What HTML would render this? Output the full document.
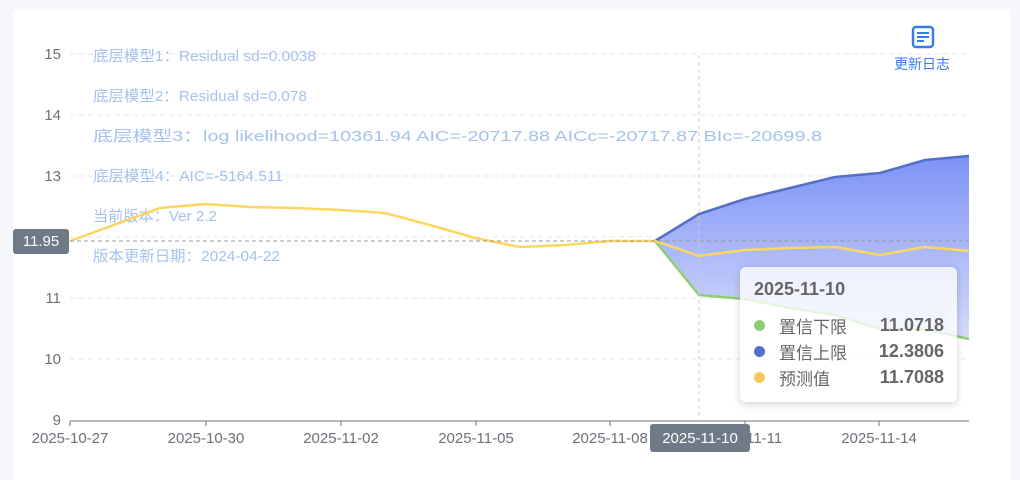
<!DOCTYPE html>
<html><head><meta charset="utf-8"><style>
body{margin:0;width:1020px;height:475px;background:#f5f7fb;font-family:"Liberation Sans","Noto Sans CJK SC",sans-serif;overflow:hidden;position:relative}
.panel{position:absolute;left:13px;top:10px;width:997px;height:470px;background:#fff}
.tt{position:absolute;left:740px;top:267px;width:217px;height:135px;background:rgba(255,255,255,0.78);border-radius:6px;box-shadow:0 2px 8px rgba(0,0,0,0.18);color:#666}
.row{position:absolute;left:14px;font-size:17px;height:26px;width:190px;display:flex;align-items:center}
.dot{display:inline-block;width:11px;height:11px;border-radius:50%;margin-right:14px}
.v{margin-left:auto;font-weight:bold;color:#666;font-size:18px}
</style></head><body>
<div class="panel"></div>
<svg width="1020" height="475" style="position:absolute;left:0;top:0" font-family="Liberation Sans, Noto Sans CJK SC, sans-serif">
<defs><linearGradient id="g" gradientUnits="userSpaceOnUse" x1="0" y1="150" x2="0" y2="400"><stop offset="0" stop-color="#7a90f5"/><stop offset="1" stop-color="#f2f4fe"/></linearGradient></defs>
<g stroke="#e0e6f1" stroke-dasharray="5,4">
<line x1="70" y1="54" x2="969" y2="54"/><line x1="70" y1="115" x2="969" y2="115"/><line x1="70" y1="176" x2="969" y2="176"/><line x1="70" y1="237" x2="969" y2="237"/><line x1="70" y1="298" x2="969" y2="298"/><line x1="70" y1="359" x2="969" y2="359"/>
</g>
<g font-size="15" fill="#6e7079" text-anchor="end"><text x="61" y="59">15</text><text x="61" y="120">14</text><text x="61" y="181">13</text><text x="61" y="303">11</text><text x="61" y="364">10</text><text x="61" y="425">9</text></g>
<g font-size="15" fill="#a4c2ec" lengthAdjust="spacingAndGlyphs">
<text x="93" y="61" textLength="223" lengthAdjust="spacingAndGlyphs">底层模型1：Residual sd=0.0038</text>
<text x="93" y="101" textLength="214" lengthAdjust="spacingAndGlyphs">底层模型2：Residual sd=0.078</text>
<text x="93" y="141" textLength="729" lengthAdjust="spacingAndGlyphs">底层模型3：log likelihood=10361.94 AIC=-20717.88 AICc=-20717.87 BIc=-20699.8</text>
<text x="93" y="181" textLength="190" lengthAdjust="spacingAndGlyphs">底层模型4：AIC=-5164.511</text>
<text x="93" y="221" textLength="124" lengthAdjust="spacingAndGlyphs">当前版本：Ver 2.2</text>
<text x="93" y="261" textLength="187" lengthAdjust="spacingAndGlyphs">版本更新日期：2024-04-22</text></g>
<polygon fill="url(#g)" points="655,241 699,214 745,199 790,188 835,177 880,173 925,160 969,156 969,339 925,329 880,329 835,315 790,308 745,299 699,295"/>
<polyline fill="none" stroke="#5470c6" stroke-width="2.5" points="655,241 699,214 745,199 790,188 835,177 880,173 925,160 969,156"/>
<polyline fill="none" stroke="#91cc75" stroke-width="2.5" points="655,241 699,295 745,299 790,308 835,315 880,329 925,329 969,339"/>
<polyline fill="none" stroke="#fdd660" stroke-width="2.5" points="70,241 160,208 206,204 250,207 296,208 340,210 385,213 430,225 475,238 520,247 565,245 610,241 655,241 699,256 745,250 790,248 835,247 880,255 925,247 969,251"/>
<line x1="70" y1="241" x2="969" y2="241" stroke="#999" stroke-dasharray="4,3"/>
<line x1="699" y1="55" x2="699" y2="420" stroke="#ccc" stroke-dasharray="4,3"/>
<line x1="70" y1="421" x2="969" y2="421" stroke="#6e7079"/>
<g stroke="#6e7079"><line x1="70" y1="421" x2="70" y2="426"/><line x1="206" y1="421" x2="206" y2="426"/><line x1="341" y1="421" x2="341" y2="426"/><line x1="476" y1="421" x2="476" y2="426"/><line x1="610" y1="421" x2="610" y2="426"/><line x1="745" y1="421" x2="745" y2="426"/><line x1="879" y1="421" x2="879" y2="426"/></g>
<g font-size="15" fill="#6e7079" text-anchor="middle"><text x="70" y="443">2025-10-27</text><text x="206" y="443">2025-10-30</text><text x="341" y="443">2025-11-02</text><text x="476" y="443">2025-11-05</text><text x="610" y="443">2025-11-08</text><text x="745" y="443">2025-11-11</text><text x="879" y="443">2025-11-14</text></g>
<rect x="650" y="424" width="100" height="28" rx="3" fill="#6e7a87"/><text x="700" y="443" font-size="15" fill="#fff" text-anchor="middle">2025-11-10</text>
<rect x="13" y="229" width="56" height="25" rx="3" fill="#6e7a87"/><text x="41" y="246" font-size="15" fill="#fff" text-anchor="middle">11.95</text>
<rect x="913" y="27" width="20" height="20" rx="3" fill="none" stroke="#3a7bea" stroke-width="2.5"/><g stroke="#3a7bea" stroke-width="2"><line x1="917" y1="33" x2="929" y2="33"/><line x1="917" y1="37" x2="929" y2="37"/><line x1="917" y1="41" x2="924" y2="41"/></g>
<text x="922" y="69" font-size="14" fill="#3a7bea" text-anchor="middle">更新日志</text>
</svg>
<div class="tt">
<div style="position:absolute;left:14px;top:12px;font-size:18px;font-weight:bold;color:#666">2025-11-10</div>
<div class="row" style="top:45px"><span class="dot" style="background:#91cc75"></span>置信下限<span class="v">11.0718</span></div>
<div class="row" style="top:71px"><span class="dot" style="background:#5470c6"></span>置信上限<span class="v">12.3806</span></div>
<div class="row" style="top:97px"><span class="dot" style="background:#fac858"></span>预测值<span class="v">11.7088</span></div>
</div>
</body></html>
